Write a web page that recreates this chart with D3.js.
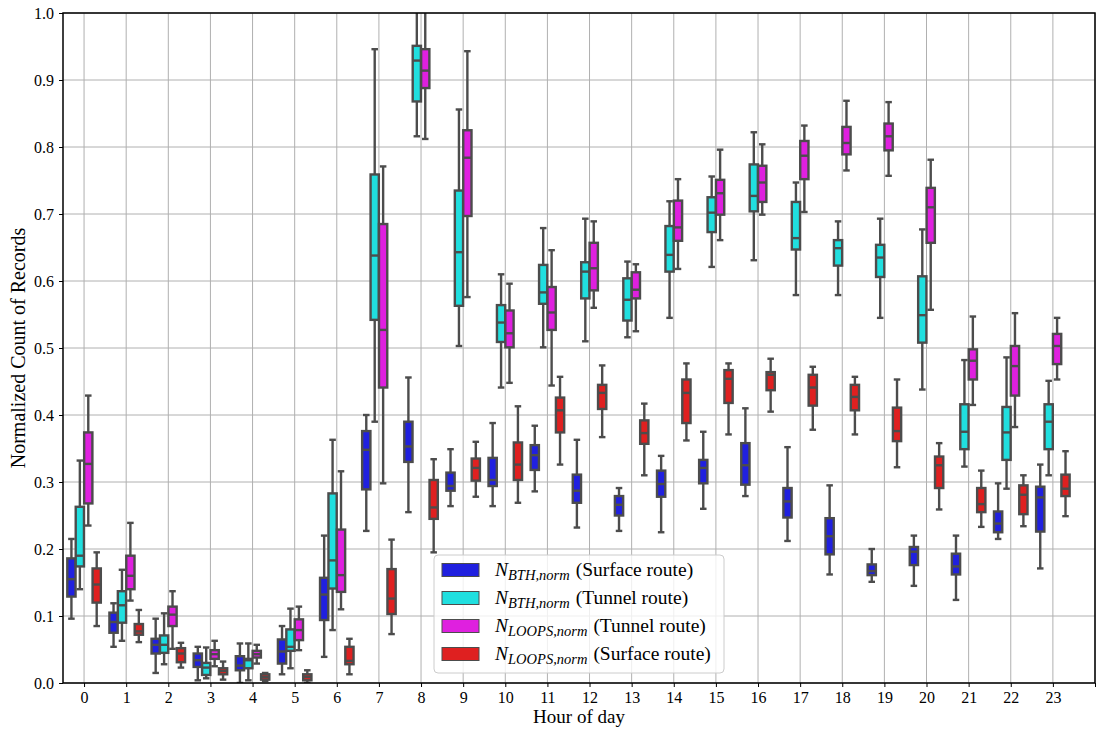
<!DOCTYPE html>
<html>
<head>
<meta charset="utf-8">
<script src="https://cdn.jsdelivr.net/npm/d3@7"></script>
<style>
  body { margin: 0; background: #fff; }
  svg text { font-family: "Liberation Serif", "DejaVu Serif", serif; fill: #000; }
</style>
</head>
<body>
<div id="chart"></div>
<script>
// hour labels on the x axis
const hourLabels = ["0","1","2","3","4","5","6","7","8","9","10","11",
    "12","13","14","15","16","17","18","19","20","21","22","23"];

// each entry: [whisker low, q1, median, q3, whisker high]
const bthSurface = [
    [0.096,0.129,0.155,0.186,0.215], [0.054,0.075,0.091,0.105,0.119], [0.015,0.044,0.057,0.066,0.096],
    [0.004,0.024,0.034,0.044,0.054], [0.000,0.019,0.026,0.040,0.059], [0.013,0.029,0.047,0.065,0.085],
    [0.039,0.094,0.132,0.157,0.220], [0.227,0.289,0.348,0.376,0.400], [0.255,0.330,0.353,0.390,0.456],
    [0.264,0.287,0.294,0.314,0.349], [0.264,0.294,0.303,0.336,0.388], [0.286,0.318,0.340,0.355,0.384],
    [0.232,0.269,0.287,0.311,0.363], [0.227,0.250,0.266,0.279,0.291], [0.225,0.278,0.297,0.317,0.339],
    [0.260,0.298,0.321,0.333,0.375], [0.279,0.296,0.325,0.358,0.410], [0.212,0.247,0.271,0.291,0.352],
    [0.162,0.192,0.219,0.246,0.295], [0.151,0.161,0.167,0.177,0.200], [0.145,0.176,0.196,0.203,0.220],
    [0.124,0.162,0.174,0.193,0.220], [0.215,0.225,0.238,0.256,0.298], [0.171,0.226,0.277,0.293,0.326]
];
const bthTunnel = [
    [0.140,0.174,0.190,0.263,0.332], [0.063,0.090,0.116,0.137,0.169], [0.028,0.045,0.057,0.071,0.104],
    [0.007,0.012,0.023,0.030,0.053], [0.004,0.022,0.034,0.036,0.059], [0.022,0.048,0.054,0.080,0.111],
    [0.079,0.141,0.183,0.283,0.363], [0.390,0.542,0.638,0.759,0.946], [0.816,0.868,0.929,0.951,1.030],
    [0.503,0.563,0.643,0.735,0.856], [0.441,0.509,0.538,0.564,0.610], [0.501,0.566,0.583,0.624,0.679],
    [0.510,0.574,0.614,0.628,0.693], [0.516,0.541,0.572,0.604,0.629], [0.545,0.614,0.639,0.682,0.719],
    [0.621,0.673,0.702,0.725,0.756], [0.631,0.704,0.727,0.774,0.822], [0.579,0.647,0.664,0.718,0.747],
    [0.579,0.623,0.649,0.661,0.689], [0.545,0.606,0.635,0.654,0.693], [0.438,0.508,0.549,0.607,0.677],
    [0.323,0.349,0.375,0.416,0.482], [0.290,0.333,0.374,0.412,0.486], [0.310,0.349,0.390,0.416,0.451]
];
const loopsTunnel = [
    [0.235,0.268,0.327,0.374,0.429], [0.123,0.140,0.160,0.190,0.239], [0.051,0.085,0.102,0.114,0.137],
    [0.025,0.036,0.043,0.049,0.063], [0.029,0.038,0.043,0.048,0.057], [0.049,0.064,0.079,0.095,0.114],
    [0.110,0.136,0.161,0.229,0.316], [0.298,0.441,0.527,0.685,0.771], [0.812,0.888,0.914,0.946,1.030],
    [0.576,0.697,0.784,0.825,0.943], [0.448,0.501,0.522,0.556,0.596], [0.444,0.527,0.553,0.591,0.646],
    [0.560,0.586,0.619,0.657,0.689], [0.525,0.574,0.587,0.613,0.625], [0.618,0.660,0.680,0.720,0.752],
    [0.661,0.699,0.731,0.751,0.796], [0.699,0.718,0.747,0.772,0.804], [0.703,0.752,0.787,0.809,0.832],
    [0.765,0.789,0.806,0.830,0.869], [0.757,0.795,0.816,0.835,0.867], [0.557,0.657,0.710,0.739,0.781],
    [0.415,0.453,0.481,0.498,0.547], [0.382,0.429,0.473,0.503,0.552], [0.453,0.476,0.503,0.521,0.545]
];
const loopsSurface = [
    [0.085,0.120,0.147,0.171,0.195], [0.061,0.072,0.077,0.088,0.109], [0.023,0.031,0.044,0.052,0.060],
    [0.005,0.013,0.018,0.022,0.032], [0.003,0.005,0.009,0.013,0.015], [0.000,0.004,0.009,0.013,0.019],
    [0.013,0.028,0.033,0.054,0.066], [0.073,0.103,0.126,0.170,0.214], [0.195,0.245,0.262,0.303,0.334],
    [0.278,0.302,0.321,0.335,0.360], [0.269,0.303,0.326,0.359,0.413], [0.326,0.374,0.407,0.426,0.457],
    [0.367,0.409,0.433,0.445,0.474], [0.310,0.357,0.373,0.392,0.417], [0.362,0.388,0.433,0.453,0.477],
    [0.371,0.418,0.454,0.467,0.477], [0.405,0.437,0.460,0.464,0.484], [0.378,0.414,0.441,0.460,0.472],
    [0.371,0.407,0.427,0.445,0.457], [0.322,0.361,0.376,0.411,0.453], [0.259,0.291,0.325,0.338,0.358],
    [0.233,0.255,0.267,0.291,0.317], [0.234,0.252,0.281,0.295,0.310], [0.249,0.279,0.290,0.311,0.346]
];

const seriesNames = [
    ["BTH,norm", "(Surface route)"],
    ["BTH,norm", "(Tunnel route)"],
    ["LOOPS,norm", "(Tunnel route)"],
    ["LOOPS,norm", "(Surface route)"]
];
const seriesData = [bthSurface, bthTunnel, loopsTunnel, loopsSurface];
const seriesColors = ["#2020df", "#20dfdf", "#df20df", "#df2020"];

const W = 1096, H = 734;
const pLeft = 63, pRight = 1095, pTop = 13, pBottom = 683;
const lineGray = "#4c4c4c";

const svg = d3.select("#chart").append("svg")
    .attr("width", W).attr("height", H);

const x = d3.scaleLinear().domain([-0.5, 24]).range([pLeft, pRight]);
const y = d3.scaleLinear().domain([0, 1]).range([pBottom, pTop]);
const hue = d3.scaleBand().domain(d3.range(seriesData.length)).range([-0.4, 0.4]);

svg.append("clipPath").attr("id", "plotclip")
    .append("rect").attr("x", pLeft).attr("y", pTop)
    .attr("width", pRight - pLeft).attr("height", pBottom - pTop);

// grid
const grid = svg.append("g");
grid.selectAll("line.gx").data(d3.range(25)).enter().append("line")
    .attr("x1", d => x(d)).attr("x2", d => x(d))
    .attr("y1", pTop).attr("y2", pBottom)
    .attr("stroke", "#b0b0b0").attr("stroke-width", 1);
grid.selectAll("line.gy").data(y.ticks(10)).enter().append("line")
    .attr("x1", pLeft).attr("x2", pRight)
    .attr("y1", d => y(d)).attr("y2", d => y(d))
    .attr("stroke", "#b0b0b0").attr("stroke-width", 1);

// boxes
const plot = svg.append("g").attr("clip-path", "url(#plotclip)");
const bw = (x(hue.bandwidth()) - x(0)) * 0.98;
const capW = bw / 2;

seriesData.forEach(function(arr, si) {
    const g = plot.append("g");
    const items = arr.map((v, i) => ({ h: i, v: v, cx: x(i + hue(si) + hue.bandwidth() / 2) }));
    const b = g.selectAll("g").data(items).enter().append("g");
    // whiskers
    b.append("line")
        .attr("x1", d => d.cx).attr("x2", d => d.cx)
        .attr("y1", d => y(d.v[0])).attr("y2", d => y(d.v[1]))
        .attr("stroke", lineGray).attr("stroke-width", 2.4);
    b.append("line")
        .attr("x1", d => d.cx).attr("x2", d => d.cx)
        .attr("y1", d => y(d.v[3])).attr("y2", d => y(d.v[4]))
        .attr("stroke", lineGray).attr("stroke-width", 2.4);
    // caps
    [0, 4].forEach(function(k) {
        b.append("line")
            .attr("x1", d => d.cx - capW / 2).attr("x2", d => d.cx + capW / 2)
            .attr("y1", d => y(d.v[k])).attr("y2", d => y(d.v[k]))
            .attr("stroke", lineGray).attr("stroke-width", 2.4)
            .attr("stroke-linecap", "square");
    });
    // box
    b.append("rect")
        .attr("x", d => d.cx - bw / 2).attr("width", bw)
        .attr("y", d => y(d.v[3]))
        .attr("height", d => Math.max(0.5, y(d.v[1]) - y(d.v[3])))
        .attr("fill", seriesColors[si])
        .attr("stroke", lineGray).attr("stroke-width", 2.4);
    // median
    b.append("line")
        .attr("x1", d => d.cx - bw / 2).attr("x2", d => d.cx + bw / 2)
        .attr("y1", d => y(d.v[2])).attr("y2", d => y(d.v[2]))
        .attr("stroke", lineGray).attr("stroke-width", 2.4);
});

// axes
const xAxis = d3.axisBottom(x).tickValues(d3.range(25))
    .tickFormat(d => hourLabels[d] !== undefined ? hourLabels[d] : "")
    .tickSize(4).tickPadding(5);
const yAxis = d3.axisLeft(y).ticks(10).tickFormat(d3.format(".1f"))
    .tickSize(4).tickPadding(5);

const gx = svg.append("g").attr("transform", `translate(0,${pBottom})`).call(xAxis);
const gy = svg.append("g").attr("transform", `translate(${pLeft},0)`).call(yAxis);
[gx, gy].forEach(function(g) {
    g.select(".domain").remove();
    g.selectAll(".tick line").attr("stroke", "#000").attr("stroke-width", 1);
    g.selectAll(".tick text").style("font-size", "16px")
        .style("font-family", "'Liberation Serif', serif");
});

// frame
svg.append("rect")
    .attr("x", pLeft).attr("y", pTop)
    .attr("width", pRight - pLeft).attr("height", pBottom - pTop)
    .attr("fill", "none").attr("stroke", "#000").attr("stroke-width", 1.5);

// axis titles
svg.append("text")
    .attr("x", (pLeft + pRight) / 2).attr("y", 723)
    .attr("text-anchor", "middle")
    .style("font-size", "19px")
    .text("Hour of day");
svg.append("text")
    .attr("transform", `translate(25,${(pTop + pBottom) / 2}) rotate(-90)`)
    .attr("text-anchor", "middle")
    .style("font-size", "20px")
    .text("Normalized Count of Records");

// legend
const legend = svg.append("g");
legend.append("rect")
    .attr("x", 434).attr("y", 555).attr("width", 290).attr("height", 118)
    .attr("rx", 4).attr("ry", 4)
    .attr("fill", "#fff").attr("fill-opacity", 0.8)
    .attr("stroke", "#cccccc").attr("stroke-width", 1);

const rows = legend.selectAll("g.row").data(seriesNames).enter().append("g")
    .attr("transform", (d, i) => `translate(442,${570 + i * 28})`);
rows.append("rect")
    .attr("x", 0).attr("y", -6.5).attr("width", 37).attr("height", 13)
    .attr("fill", (d, i) => seriesColors[i])
    .attr("stroke", lineGray).attr("stroke-width", 1);
const txt = rows.append("text")
    .attr("x", 53).attr("y", 6)
    .style("font-size", "19.5px");
txt.append("tspan").style("font-style", "italic").text("N");
txt.append("tspan").style("font-style", "italic")
    .style("font-size", "14.5px").attr("dy", 4).text(d => d[0]);
txt.append("tspan").attr("dy", -4).attr("dx", 6).text(d => d[1]);
</script>
</body>
</html>
